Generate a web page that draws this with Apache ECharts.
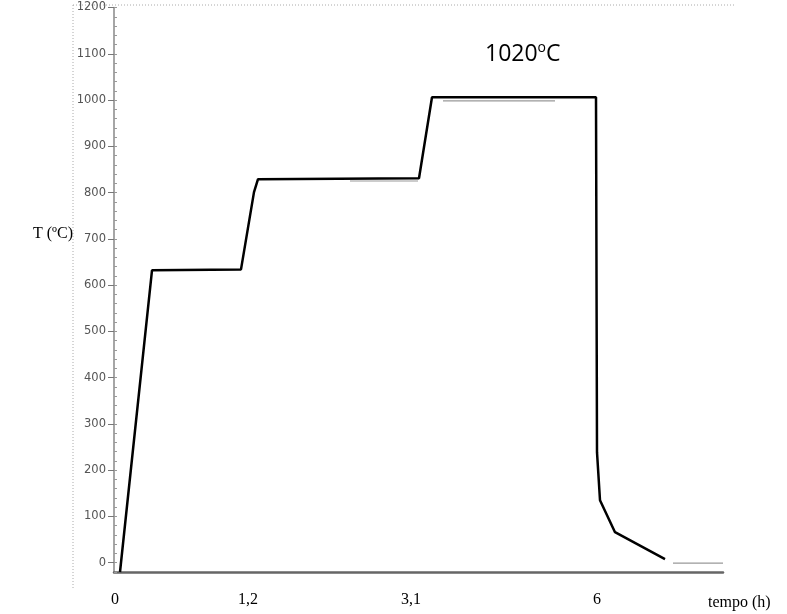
<!DOCTYPE html>
<html><head><meta charset="utf-8">
<script src="https://cdn.jsdelivr.net/npm/echarts@6/dist/echarts.min.js"></script>
<style>html,body{margin:0;padding:0;background:#fff}#c{width:787px;height:614px}</style>
</head><body><div id="c"></div>
<script>
// x positions are in plot units (the time axis of the original is not linear)
const tickPos = [1, 134, 297, 483];
const tickText = ['0', '1,2', '3,1', '6'];
const yTicks = [0,100,200,300,400,500,600,700,800,900,1000,1100,1200];

const mainX = [6, 38, 127, 140, 144, 305, 318, 482, 483, 486, 501, 551];
const mainY = [-20, 632, 634, 801, 829, 831, 1006, 1006, 239, 135, 66, 8];

const grayX = [236, 304, null, 329, 441, null, 559, 609];
const grayY = [825, 825, null, 998, 998, null, -1, -1];

const main = mainX.map((x,i)=>[x, mainY[i]]);
const gray = grayX.map((x,i)=> x===null ? [null,null] : [x, grayY[i]]);

const chart = echarts.init(document.getElementById('c'));
chart.setOption({
  animation:false,
  title:[
    {text:'{a|1020}{b|o}{a|C}', left:480, top:36, textStyle:{rich:{
      a:{fontFamily:'Open Sans', fontSize:23, fontWeight:'normal', color:'#000'},
      b:{fontFamily:'Open Sans', fontSize:14, fontWeight:'normal', color:'#000', verticalAlign:'top', padding:[0,0,12,0]}}}},
    {text:'T (ºC)', left:28, top:221, textStyle:{fontFamily:'Liberation Serif', fontSize:16, fontWeight:'normal', color:'#000'}},
    {text:'tempo (h)', left:703, top:590, textStyle:{fontFamily:'Liberation Serif', fontSize:16, fontWeight:'normal', color:'#000'}}
  ],
  grid:{left:114, right:64, top:7.5, bottom:42},
  xAxis:{type:'value', min:0, max:609,
    axisLine:{show:true, onZero:false, lineStyle:{color:'#666', width:2.5}},
    axisTick:{show:false},
    splitLine:{show:false},
    axisLabel:{customValues:tickPos, formatter:(v)=>tickText[tickPos.indexOf(v)], margin:20,
      fontFamily:'Liberation Serif', fontSize:16, color:'#000'}
  },
  yAxis:[
    {type:'value', min:-20, max:1200,
      axisLine:{show:true, lineStyle:{color:'#888', width:1.5}},
      axisTick:{show:true, customValues:yTicks, length:6, lineStyle:{color:'#777'}},
      axisLabel:{customValues:yTicks, formatter:(v)=>String(v), margin:8, fontFamily:'DejaVu Sans', fontSize:11.5, color:'#555'},
      splitLine:{show:false}},
    {type:'value', min:-20, max:1200, interval:20, position:'left',
      axisLine:{show:false},
      axisTick:{show:true, inside:true, length:3, lineStyle:{color:'#999'}},
      axisLabel:{show:false}, splitLine:{show:false}}
  ],
  graphic:[
    {type:'line', shape:{x1:73, y1:5, x2:73, y2:588}, style:{stroke:'#aaa', lineWidth:1, lineDash:[1,2]}},
    {type:'line', shape:{x1:73, y1:5, x2:736, y2:5}, style:{stroke:'#aaa', lineWidth:1, lineDash:[1,2]}}
  ],
  series:[
    {type:'line', data:gray, yAxisIndex:0, showSymbol:false, connectNulls:false,
      lineStyle:{color:'#999', width:1.2}},
    {type:'line', data:main, yAxisIndex:0, showSymbol:false,
      lineStyle:{color:'#000', width:2.5}}
  ]
});
</script></body></html>
